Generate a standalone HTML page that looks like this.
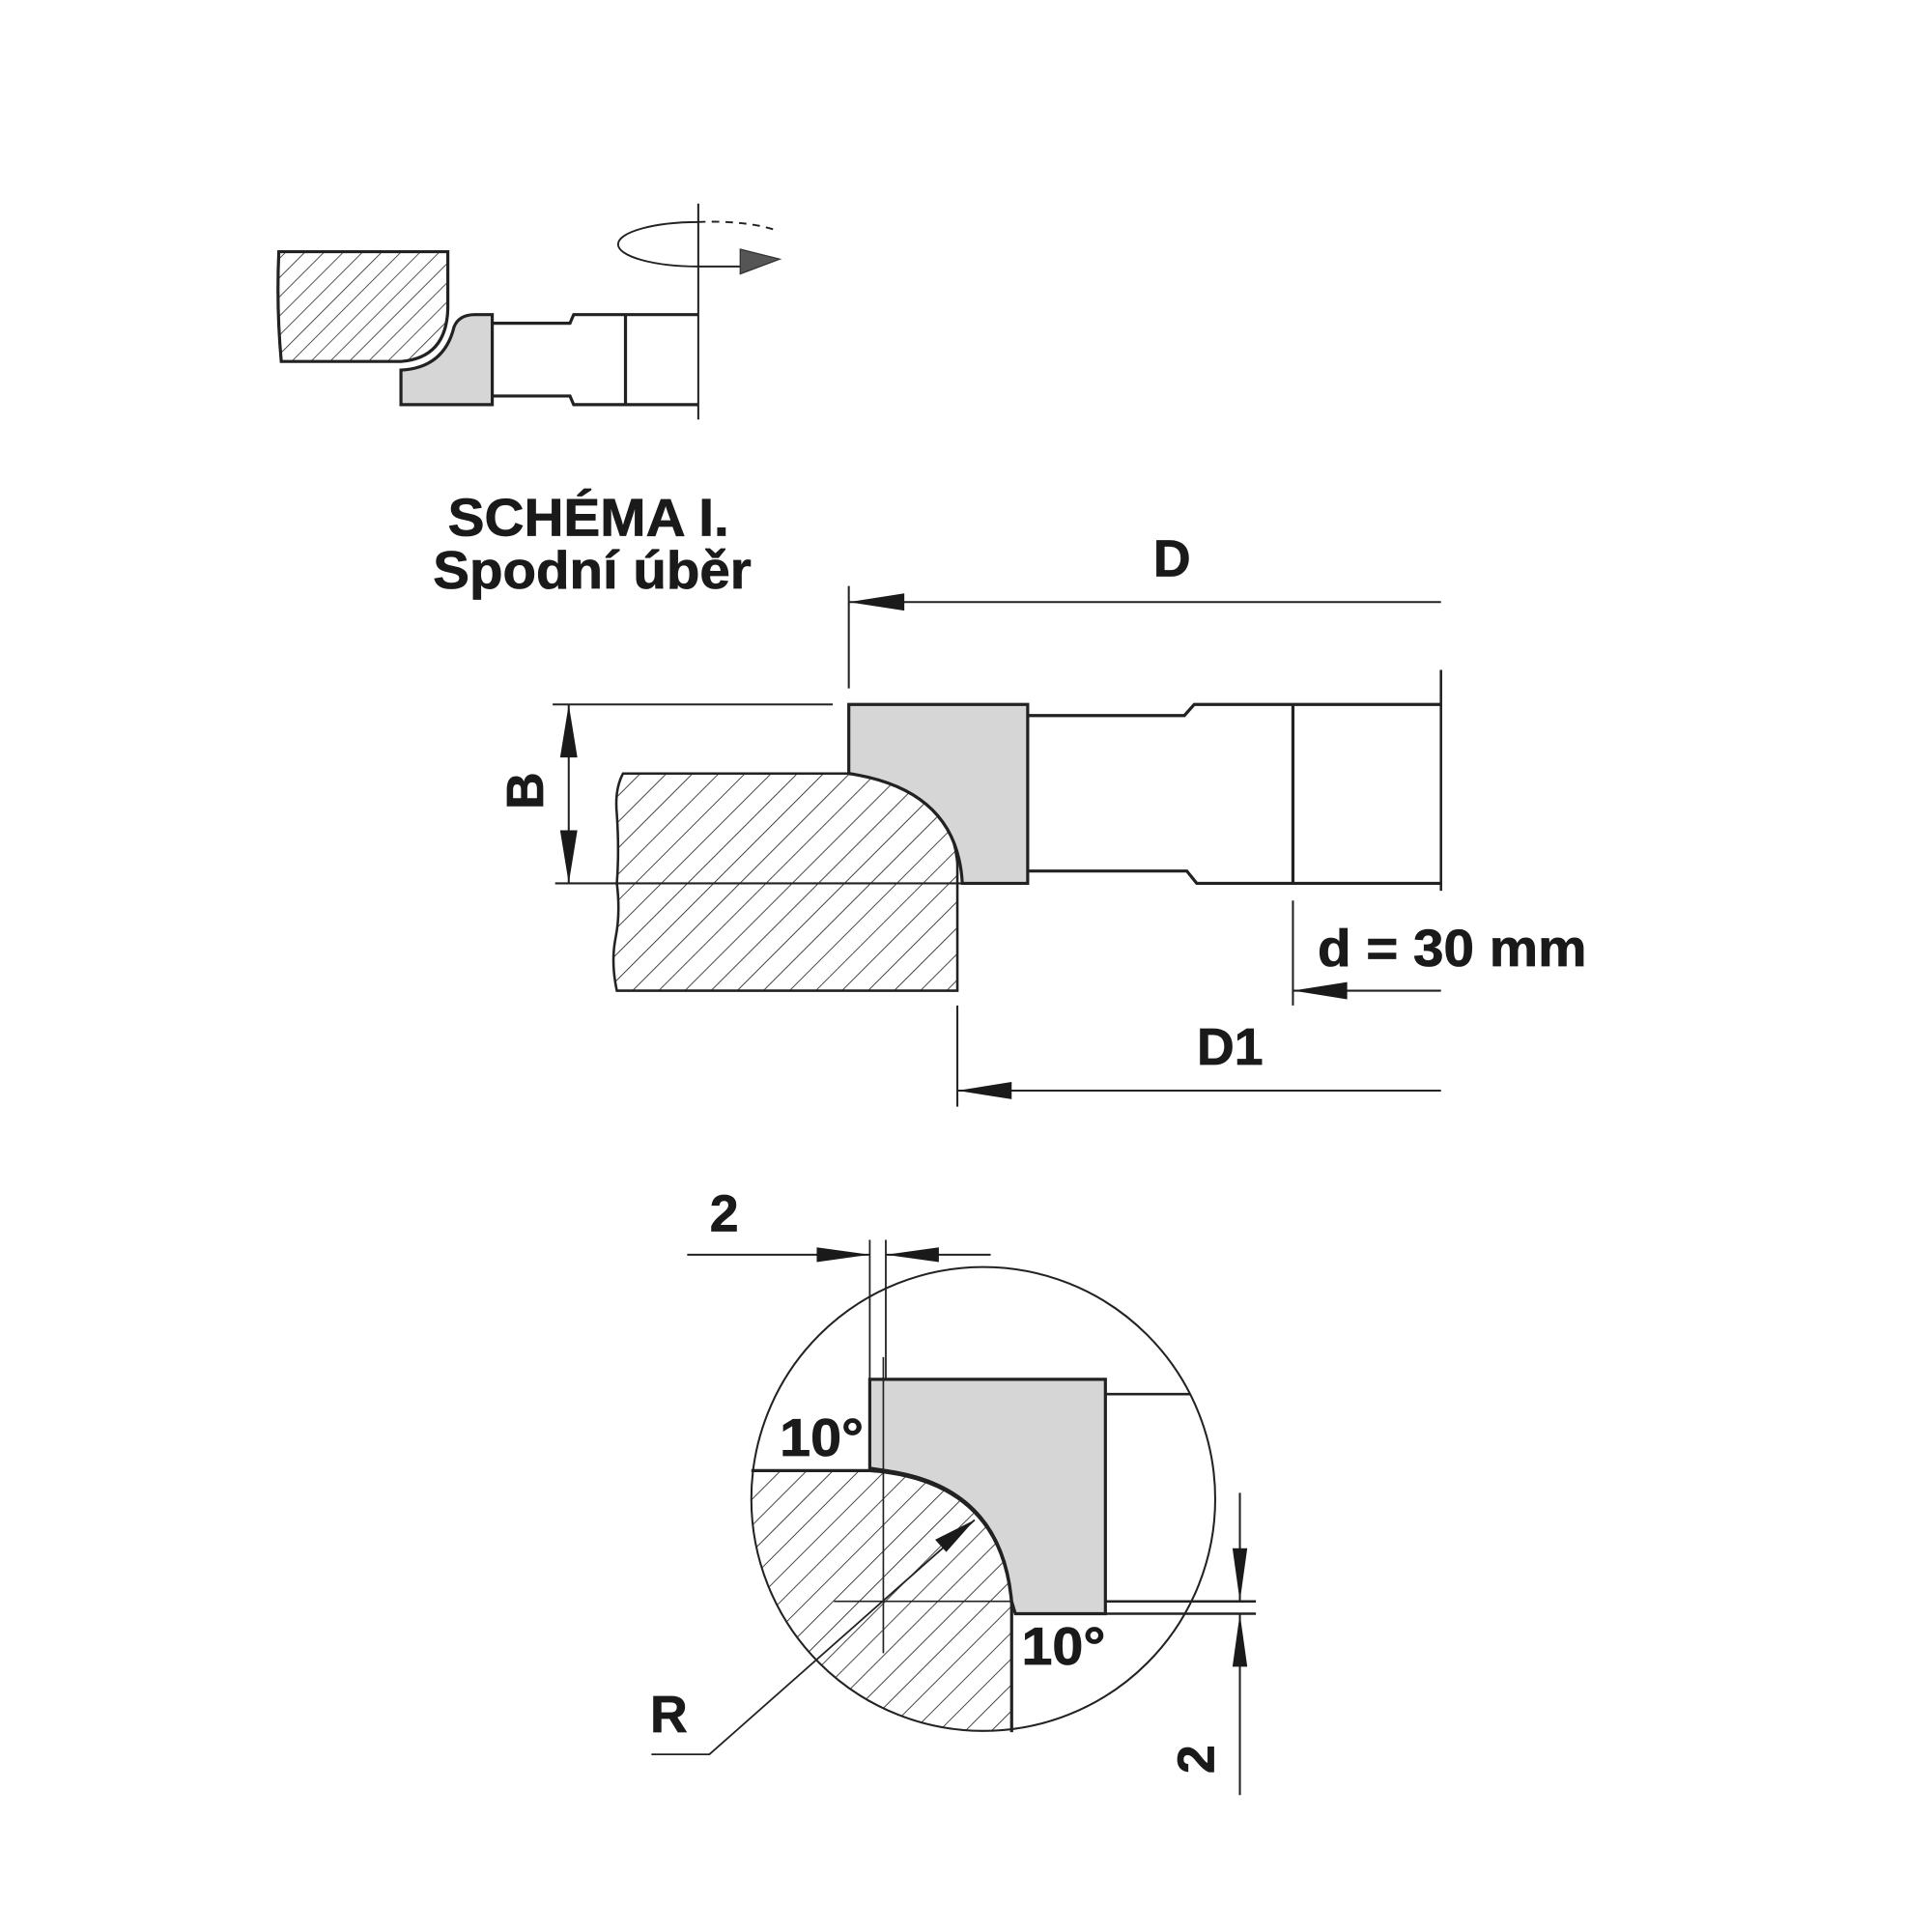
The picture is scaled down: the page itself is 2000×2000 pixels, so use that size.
<!DOCTYPE html>
<html><head><meta charset="utf-8"><style>html,body{margin:0;padding:0;background:#fff}svg{display:block}</style></head>
<body>
<svg width="2000" height="2000" viewBox="0 0 1566 1566" xmlns="http://www.w3.org/2000/svg">
<defs>
<pattern id="h" patternUnits="userSpaceOnUse" width="15" height="15" patternTransform="rotate(45)">
<line x1="0" y1="0" x2="0" y2="15" stroke="#222" stroke-width="1.3"/>
</pattern>
<pattern id="hs" patternUnits="userSpaceOnUse" width="11" height="11" patternTransform="rotate(45)">
<line x1="0" y1="0" x2="0" y2="11" stroke="#222" stroke-width="1.2"/>
</pattern>
<clipPath id="cc"><circle cx="797" cy="1215" r="188"/></clipPath>
</defs>
<g fill="none" stroke="#222" stroke-width="2">
<path d="M226,204 L363,204 L363,250 Q362,290 325,293 L228,293 Q224,250 226,204 Z" fill="url(#hs)" stroke-width="2.5"/>
<path d="M325,328 L325,300 Q360,298 368,265 Q372,255 385,255 L399,255 L399,328 Z" fill="#d6d6d6" stroke-width="2.5"/>
<path d="M399,262 L462,262 L465,255 L566,255 M399,321 L462,321 L465,328 L566,328 M507,255 L507,328" stroke-width="2.5"/>
<line x1="566" y1="165" x2="566" y2="340" stroke-width="1.6"/>
<path d="M566,216 A65,18 0 0 1 566,180" stroke-width="1.5"/>
<path d="M566,180 A65,18 0 0 1 630,187" stroke-width="1.5" stroke-dasharray="6,5"/>
<path d="M566,216 L600,216" stroke-width="1.5"/>
<path d="M600,202 L632,210 L600,222 Z" fill="#555" stroke="#333" stroke-width="1"/>
<path d="M505,627 L688,627 Q770,632 776,700 L776,803 L500,803 Q495,780 499,760 Q503,740 500,716 Q502,690 500,660 Q498,640 505,627 Z" fill="url(#h)" stroke-width="2"/>
<line x1="450" y1="716" x2="780" y2="716" stroke-width="1.6"/>
<path d="M688,571 L833,571 L833,716 L780,716 Q776,640 688,627 Z" fill="#d6d6d6" stroke-width="2.5"/>
<path d="M833,580 L960,580 L968,571 L1168,571 M833,706 L962,706 L970,716 L1168,716 M1048,571 L1048,716" stroke-width="2.5"/>
<line x1="1168" y1="543" x2="1168" y2="722" stroke-width="2"/>
<line x1="688" y1="475" x2="688" y2="558" stroke-width="1.6"/>
<line x1="688" y1="488" x2="1168" y2="488" stroke-width="1.6"/>
<line x1="448" y1="571" x2="675" y2="571" stroke-width="1.6"/>
<line x1="461" y1="571" x2="461" y2="716" stroke-width="1.6"/>
<line x1="1048" y1="730" x2="1048" y2="815" stroke-width="1.6"/>
<line x1="1048" y1="803" x2="1168" y2="803" stroke-width="1.6"/>
<line x1="776" y1="815" x2="776" y2="897" stroke-width="1.6"/>
<line x1="776" y1="884" x2="1168" y2="884" stroke-width="1.6"/>
<g clip-path="url(#cc)">
<path d="M600,1192 L705,1192 Q812,1200 820,1300 L820,1420 L600,1420 Z" fill="url(#h)" stroke="none"/>
</g>
<circle cx="797" cy="1215" r="188" stroke-width="1.6"/>
<path d="M609,1192 L705,1192 Q812,1200 820,1300 L820,1404" stroke-width="2.5"/>
<path d="M705,1118 L896,1118 L896,1308 L823,1308 L820,1298 Q812,1205 718,1192 L705,1190 Z" fill="#d6d6d6" stroke-width="2.5"/>
<path d="M896,1130 L965,1130 M896,1298 L1018,1298 M896,1308 L1018,1308" stroke-width="2"/>
<line x1="716" y1="1100" x2="716" y2="1340" stroke-width="1.3"/>
<line x1="676" y1="1298" x2="820" y2="1298" stroke-width="1.3"/>
<line x1="705" y1="1005" x2="705" y2="1118" stroke-width="1.4"/>
<line x1="718" y1="1005" x2="718" y2="1118" stroke-width="1.4"/>
<line x1="557" y1="1017" x2="705" y2="1017" stroke-width="1.6"/>
<line x1="718" y1="1017" x2="803" y2="1017" stroke-width="1.6"/>
<line x1="1005" y1="1210" x2="1005" y2="1298" stroke-width="1.6"/>
<line x1="1005" y1="1308" x2="1005" y2="1455" stroke-width="1.6"/>
<path d="M528,1422 L575,1422 L790,1232" stroke-width="1.4"/>
</g>
<g fill="#1a1a1a">
<path d="M688,488 L733,481 L733,495 Z"/>
<path d="M461,571 L454,614 L468,614 Z"/>
<path d="M461,716 L454,673 L468,673 Z"/>
<path d="M1048,803 L1092,796 L1092,810 Z"/>
<path d="M776,884 L820,877 L820,891 Z"/>
<path d="M705,1017 L662,1011 L662,1023 Z"/>
<path d="M718,1017 L761,1011 L761,1023 Z"/>
<path d="M1005,1298 L999,1255 L1011,1255 Z"/>
<path d="M1005,1308 L999,1351 L1011,1351 Z"/>
<path d="M790,1232 L758,1248 L767,1258 Z"/>
</g>
<g font-family="Liberation Sans, sans-serif" font-weight="bold" fill="#1a1a1a" stroke="#1a1a1a" stroke-width="0.6">
<text x="477" y="434" font-size="43" text-anchor="middle" textLength="228" lengthAdjust="spacingAndGlyphs">SCHÉMA I.</text>
<text x="480" y="477" font-size="43" text-anchor="middle" textLength="258" lengthAdjust="spacingAndGlyphs">Spodní úběr</text>
<text x="950" y="467" font-size="42" text-anchor="middle">D</text>
<text x="440" y="641" font-size="42" text-anchor="middle" transform="rotate(-90 440 641)">B</text>
<text x="1068" y="783" font-size="42" textLength="218" lengthAdjust="spacingAndGlyphs">d = 30 mm</text>
<text x="997" y="863" font-size="42" text-anchor="middle">D1</text>
<text x="587" y="998" font-size="42" text-anchor="middle">2</text>
<text x="632" y="1180" font-size="43" textLength="68" lengthAdjust="spacingAndGlyphs">10°</text>
<text x="828" y="1349" font-size="43" textLength="68" lengthAdjust="spacingAndGlyphs">10°</text>
<text x="527" y="1404" font-size="42">R</text>
<text x="984" y="1426" font-size="42" text-anchor="middle" transform="rotate(-90 984 1426)">2</text>
</g>
</svg>
</body></html>
